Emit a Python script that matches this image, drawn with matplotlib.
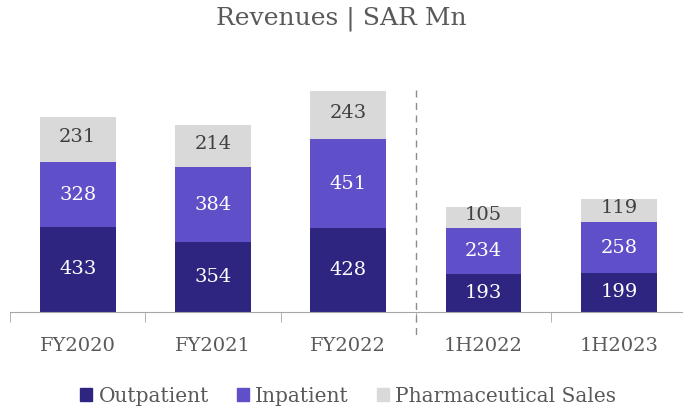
import numpy as np
import matplotlib.pyplot as plt
from matplotlib.patches import Patch
from matplotlib.transforms import blended_transform_factory

# data
categories = ['FY2020', 'FY2021', 'FY2022', '1H2022', '1H2023']
outpatient = [433, 354, 428, 193, 199]
inpatient = [328, 384, 451, 234, 258]
pharma = [231, 214, 243, 105, 119]

c_out = '#2e2580'
c_in = '#5f4fc8'
c_ph = '#d9d9d9'
grey = '#595959'

plt.rcParams['font.family'] = ['DejaVu Serif']

fig = plt.figure(figsize=(6.83, 4.09), dpi=100)
ax = fig.add_axes([10 / 683, (409 - 312) / 409, 676.5 / 683, 230 / 409])

x = np.arange(len(categories))
w = 0.56
out = np.array(outpatient)
inp = np.array(inpatient)
ph = np.array(pharma)

ax.bar(x, out, w, color=c_out)
ax.bar(x, inp, w, bottom=out, color=c_in)
ax.bar(x, ph, w, bottom=out + inp, color=c_ph)

for i in range(len(x)):
    ax.text(x[i], out[i] / 2, str(out[i]), ha='center', va='center',
            color='white', fontsize=14)
    ax.text(x[i], out[i] + inp[i] / 2, str(inp[i]), ha='center', va='center',
            color='white', fontsize=14)
    ax.text(x[i], out[i] + inp[i] + ph[i] / 2 + 12, str(ph[i]), ha='center',
            va='center', color='#404040', fontsize=14)

ax.set_xlim(-0.5, 4.5)
ax.set_ylim(0, 1170)

for s in ['top', 'right', 'left']:
    ax.spines[s].set_visible(False)
ax.spines['bottom'].set_color('#a6a6a6')
ax.set_yticks([])

# category labels centred, tick marks on the boundaries
ax.set_xticks(x)
ax.set_xticklabels(categories, color=grey, fontsize=14)
ax.tick_params(axis='x', which='major', length=0, pad=18)
ax.set_xticks(np.arange(-0.5, 5.0, 1.0), minor=True)
ax.tick_params(axis='x', which='minor', length=7, color='#a6a6a6')

# dashed separator between annual and half-year figures
trans = blended_transform_factory(ax.transData, fig.transFigure)
ax.plot([2.5, 2.5], [(409 - 90) / 409, (409 - 340) / 409], transform=trans,
        color='#8c8c8c', lw=1, ls=(0, (5, 4)), clip_on=False)

fig.suptitle('Revenues | SAR Mn', y=0.985, color=grey, fontsize=18)

handles = [Patch(color=c_out), Patch(color=c_in), Patch(color=c_ph)]
fig.legend(handles, ['Outpatient', 'Inpatient', 'Pharmaceutical Sales'],
           loc='center', bbox_to_anchor=(0.51, (409 - 396) / 409), ncol=3,
           frameon=False, fontsize=14.5, labelcolor=grey, handlelength=0.6,
           handleheight=0.6, handletextpad=0.3, columnspacing=1.4)

fig.savefig('out.png', dpi=100)
